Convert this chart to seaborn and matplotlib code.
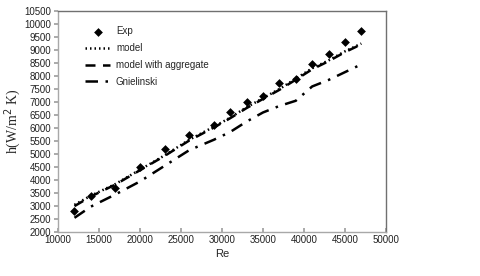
import numpy as np
import pandas as pd
import seaborn as sns
import matplotlib.pyplot as plt

re_vals = [12000, 14000, 17000, 20000, 23000, 26000, 29000, 31000,
           33000, 35000, 37000, 39000, 41000, 43000, 45000, 47000]
h_exp = [2800, 3400, 3700, 4500, 5200, 5750, 6100, 6600,
         7000, 7250, 7750, 7900, 8450, 8850, 9300, 9750]
h_model = [3050, 3400, 3850, 4400, 4950, 5550, 6050, 6400,
           6800, 7150, 7500, 7900, 8300, 8600, 8950, 9250]
h_model_agg = [3000, 3370, 3830, 4380, 4930, 5520, 6020, 6380,
               6770, 7120, 7470, 7860, 8260, 8570, 8920, 9220]
h_gnielinski = [2550, 2980, 3450, 3950, 4550, 5150, 5550, 5850,
                6250, 6600, 6850, 7050, 7600, 7850, 8150, 8450]

sns.set_theme(style="white")
plt.rcParams['font.family'] = ['Liberation Sans', 'DejaVu Sans']

df = pd.DataFrame({"Re": re_vals, "Exp": h_exp, "model": h_model,
                   "agg": h_model_agg, "gn": h_gnielinski})

fig = plt.figure(figsize=(4.8, 2.76), dpi=100)
ax = fig.add_axes([0.121, 0.159, 0.683, 0.801])

sns.scatterplot(data=df, x="Re", y="Exp", marker="D", s=20, color="black",
                edgecolor="black", linewidth=0, ax=ax, label="Exp", zorder=5)
sns.lineplot(data=df, x="Re", y="model", color="black", lw=1.8,
             linestyle=(0, (0.6, 1.2)), ax=ax, label="model")
sns.lineplot(data=df, x="Re", y="agg", color="black", lw=1.8,
             linestyle=(0, (4, 3)), ax=ax, label="model with aggregate")
sns.lineplot(data=df, x="Re", y="gn", color="black", lw=1.8,
             linestyle=(0, (5, 3, 1, 3)), ax=ax, label="Gnielinski")

ax.set_xlim(10000, 50000)
ax.set_ylim(2000, 10500)
ax.set_xticks(np.arange(10000, 50001, 5000))
ax.set_yticks(np.arange(2000, 10501, 500))
ax.tick_params(axis="both", labelsize=7, colors="#222222", pad=2)
ax.tick_params(axis="y", direction="out", length=3, color="#a0a0a0", left=True)
ax.tick_params(axis="x", direction="in", length=3, color="#a0a0a0", bottom=True)
ax.set_xlabel("Re", fontsize=8, labelpad=3)
ax.set_ylabel("h(W/m$^2$ K)", fontsize=10, labelpad=1,
              family=["Liberation Serif", "DejaVu Serif"])

for side in ["left", "bottom"]:
    ax.spines[side].set_color("#a8a8a8")
    ax.spines[side].set_linewidth(1)
for side in ["top", "right"]:
    ax.spines[side].set_color("#707070")
    ax.spines[side].set_linewidth(1)

ax.legend(loc="upper left", bbox_to_anchor=(0.055, 0.97), frameon=False,
          fontsize=7, handlelength=2.6, labelspacing=0.7, handletextpad=0.6)

fig.savefig("out.png", dpi=100)
